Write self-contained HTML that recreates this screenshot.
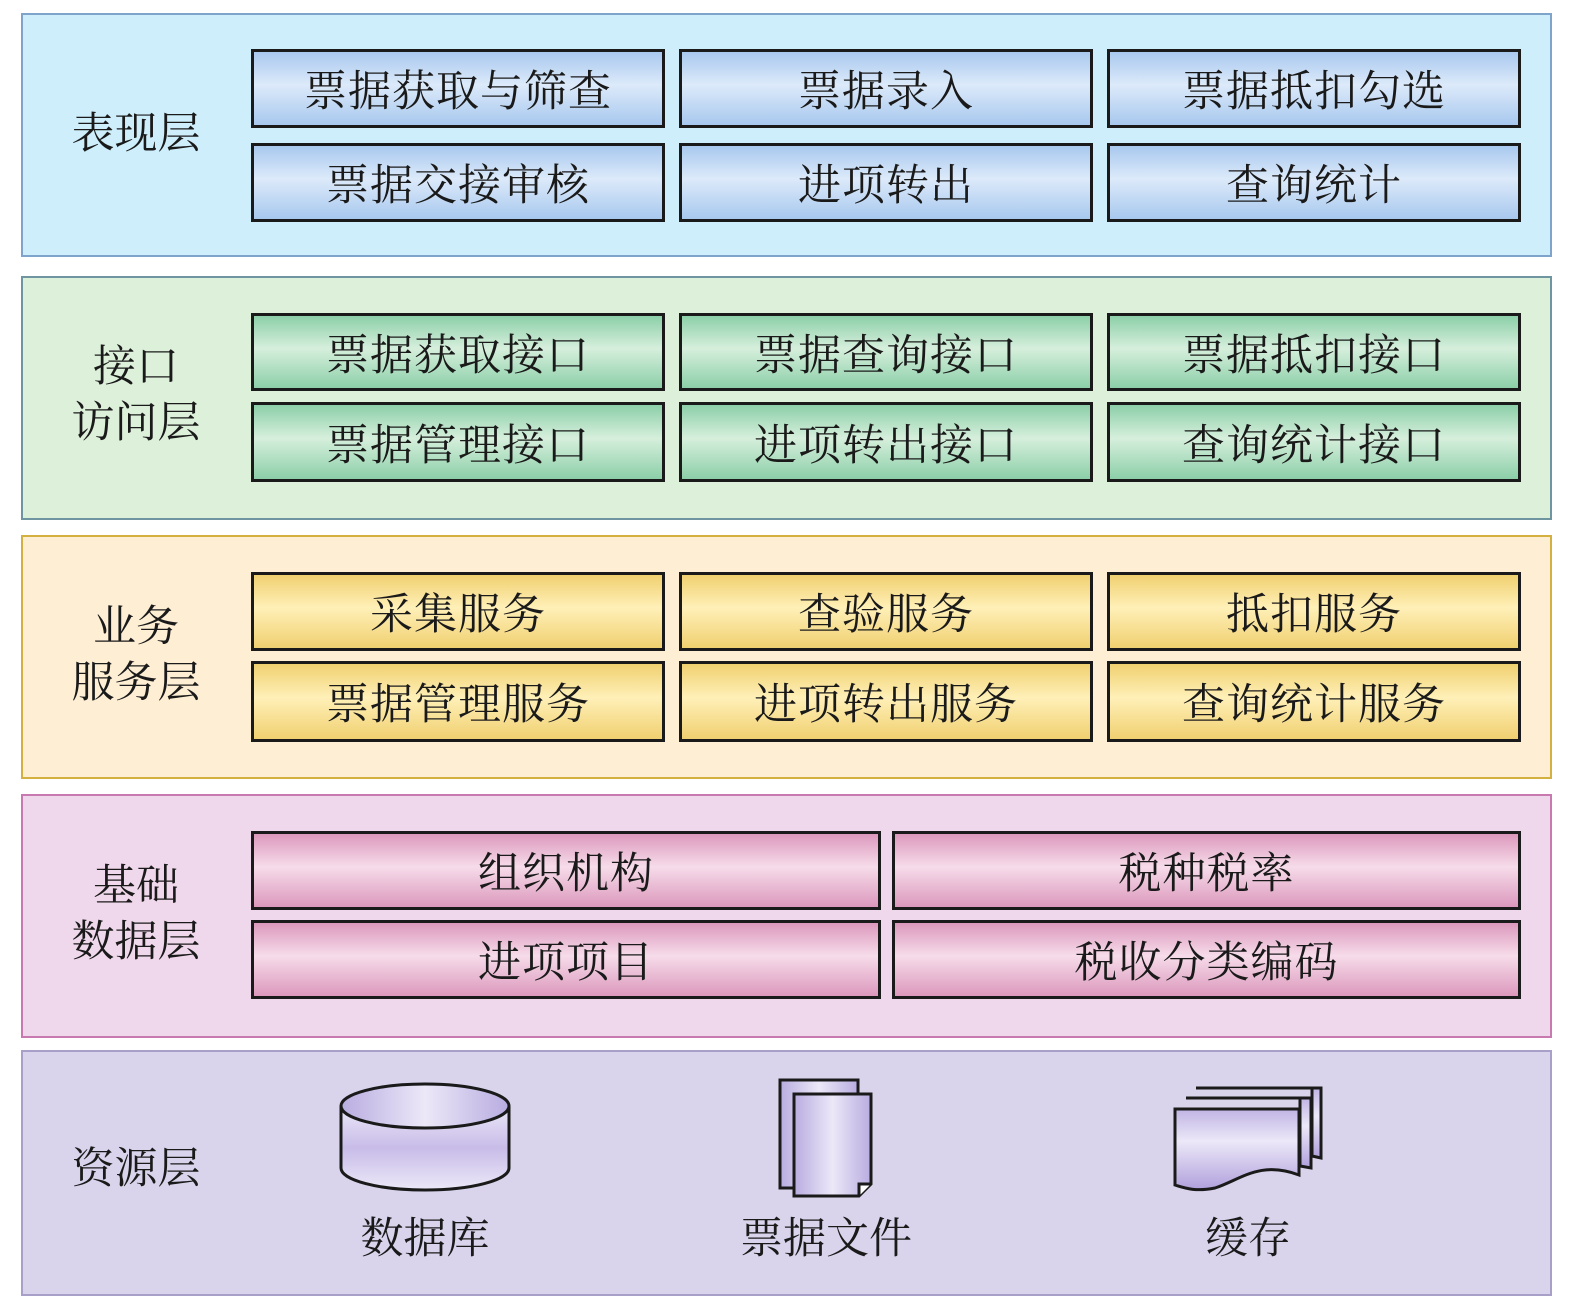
<!DOCTYPE html>
<html><head><meta charset="utf-8"><style>
body{margin:0;width:1575px;height:1310px;background:#fff;position:relative;overflow:hidden;font-family:"Liberation Serif","Noto Serif CJK SC",serif;}
.L{position:absolute;left:21px;width:1527px;height:240px;border:2px solid}
.b{position:absolute;box-sizing:border-box;border:3px solid #1a1a1a;display:flex;align-items:center;justify-content:center;font-size:43px;color:#1a1a1a;letter-spacing:1px}
.t{position:absolute;width:160px;left:56px;text-align:center;font-size:43px;color:#1a1a1a;line-height:56px}
.blue{background:linear-gradient(#a8c8ee,#dceafa 45%,#a8c8ee)}
.green{background:linear-gradient(#8ccfa8,#d6efdc 45%,#8ccfa8)}
.yel{background:linear-gradient(#f0d070,#fff0b8 45%,#f0d070)}
.pink{background:linear-gradient(#dc98bc,#f6dcea 45%,#dc98bc)}
</style></head><body>
<div class="L" style="top:13px;background:#cdeefa;border-color:#7ea4cc"></div>
<div class="L" style="top:276px;background:#dcf0da;border-color:#6f95a0"></div>
<div class="L" style="top:535px;background:#fdeed4;border-color:#d4b040"></div>
<div class="L" style="top:794px;background:#f0d8ec;border-color:#c87ab0"></div>
<div class="L" style="top:1050px;height:242px;background:#d9d4ec;border-color:#a8a0c8"></div>

<div class="t" style="top:107px">表现层</div>
<div class="t" style="top:340px">接口<br>访问层</div>
<div class="t" style="top:600px">业务<br>服务层</div>
<div class="t" style="top:859px">基础<br>数据层</div>
<div class="t" style="top:1142px">资源层</div>

<div class="b blue" style="left:251px;top:49px;width:414px;height:79px">票据获取与筛查</div>
<div class="b blue" style="left:679px;top:49px;width:414px;height:79px">票据录入</div>
<div class="b blue" style="left:1107px;top:49px;width:414px;height:79px">票据抵扣勾选</div>
<div class="b blue" style="left:251px;top:143px;width:414px;height:79px">票据交接审核</div>
<div class="b blue" style="left:679px;top:143px;width:414px;height:79px">进项转出</div>
<div class="b blue" style="left:1107px;top:143px;width:414px;height:79px">查询统计</div>

<div class="b green" style="left:251px;top:313px;width:414px;height:78px">票据获取接口</div>
<div class="b green" style="left:679px;top:313px;width:414px;height:78px">票据查询接口</div>
<div class="b green" style="left:1107px;top:313px;width:414px;height:78px">票据抵扣接口</div>
<div class="b green" style="left:251px;top:402px;width:414px;height:80px">票据管理接口</div>
<div class="b green" style="left:679px;top:402px;width:414px;height:80px">进项转出接口</div>
<div class="b green" style="left:1107px;top:402px;width:414px;height:80px">查询统计接口</div>

<div class="b yel" style="left:251px;top:572px;width:414px;height:79px">采集服务</div>
<div class="b yel" style="left:679px;top:572px;width:414px;height:79px">查验服务</div>
<div class="b yel" style="left:1107px;top:572px;width:414px;height:79px">抵扣服务</div>
<div class="b yel" style="left:251px;top:661px;width:414px;height:81px">票据管理服务</div>
<div class="b yel" style="left:679px;top:661px;width:414px;height:81px">进项转出服务</div>
<div class="b yel" style="left:1107px;top:661px;width:414px;height:81px">查询统计服务</div>

<div class="b pink" style="left:251px;top:831px;width:630px;height:79px">组织机构</div>
<div class="b pink" style="left:892px;top:831px;width:629px;height:79px">税种税率</div>
<div class="b pink" style="left:251px;top:920px;width:630px;height:79px">进项项目</div>
<div class="b pink" style="left:892px;top:920px;width:629px;height:79px">税收分类编码</div>

<svg style="position:absolute;left:0;top:0" width="1575" height="1310">
<defs>
<linearGradient id="h" x1="0" x2="1"><stop offset="0" stop-color="#b8ace0"/><stop offset=".5" stop-color="#ece8f8"/><stop offset="1" stop-color="#b8ace0"/></linearGradient>
<linearGradient id="v" x1="0" y1="0" x2="0" y2="1"><stop offset="0" stop-color="#ece8f8"/><stop offset=".5" stop-color="#c8bce8"/><stop offset="1" stop-color="#ece8f8"/></linearGradient>
<linearGradient id="v2" x1="0" y1="0" x2="0" y2="1"><stop offset="0" stop-color="#c0b4e4"/><stop offset=".4" stop-color="#ece8f8"/><stop offset="1" stop-color="#b0a0dc"/></linearGradient>
</defs>
<g stroke="#1a1a1a" stroke-width="3">
<path d="M341,1106 V1168 A84,22 0 0 0 509,1168 V1106" fill="url(#v)"/>
<ellipse cx="425" cy="1106" rx="84" ry="22" fill="url(#h)"/>
<rect x="780" y="1080" width="78" height="108" fill="url(#h)"/>
<path d="M794,1094 H871 V1184 L859,1196 H794 Z" fill="url(#h)"/>
<path d="M859,1196 V1184 H871" fill="#fff"/>
<path d="M1196,1088 H1321 V1158 L1312,1156 V1088" fill="url(#v2)"/>
<path d="M1186,1098 H1311 V1168 L1300,1166 V1098" fill="url(#v2)"/>
<path d="M1175,1109 H1299 V1175 C1260,1160 1240,1180 1215,1188 C1195,1192 1185,1188 1175,1185 Z" fill="url(#v2)"/>
</g>
<g font-size="43" fill="#1a1a1a" text-anchor="middle" font-family="Liberation Serif, Noto Serif CJK SC, serif">
<text x="425" y="1253">数据库</text>
<text x="826" y="1253">票据文件</text>
<text x="1248" y="1253">缓存</text>
</g>
</svg>
</body></html>
